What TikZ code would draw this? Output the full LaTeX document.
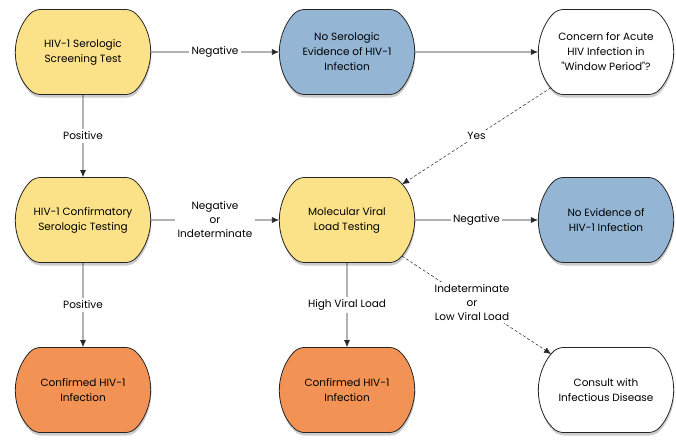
\documentclass[tikz,border=0pt]{standalone}
\usepackage{fontspec}
\setmainfont{Poppins}
\usepackage{tikz}
\usetikzlibrary{positioning}
\usetikzlibrary{shapes.misc}
\usetikzlibrary{shadows}
\usetikzlibrary{arrows.meta}

\definecolor{testyellow}{RGB}{251,226,136}
\definecolor{resultblue}{RGB}{148,181,212}
\definecolor{posorange}{RGB}{242,146,84}

\begin{document}
\begin{tikzpicture}[x=1pt, y=-1pt,
    box/.style={rounded rectangle, rounded rectangle arc length=100, rounded corners=5pt,
        draw=black!85, line width=0.8pt, minimum width=142pt, minimum height=85pt,
        align=center, text=black, font=\fontsize{10.5}{15}\selectfont,
        drop shadow={shadow xshift=0.6pt, shadow yshift=-3pt, opacity=0.4}},
    lbl/.style={fill=white, inner sep=2.5pt, align=center, text=black,
        font=\fontsize{10.5}{14}\selectfont},
    arr/.style={-{Latex[length=7pt, width=6pt]}, line width=0.7pt, black!85},
    maybe/.style={-{Latex[length=7pt, width=6pt]}, line width=0.5pt, densely dashed, black!85}]
    \useasboundingbox (0,0) rectangle (676,441);

    % first row
    \node[box, fill=testyellow] (screen) at (83,52) {HIV-1 Serologic\\Screening Test};
    \node[box, fill=resultblue] (noserol) at (347,52) {No Serologic\\Evidence of HIV-1\\Infection};
    \node[box, fill=white] (concern) at (606,52) {Concern for Acute\\HIV Infection in\\\textquotedbl Window Period\textquotedbl?};

    % second row
    \node[box, fill=testyellow] (confirm) at (83,220) {HIV-1 Confirmatory\\Serologic Testing};
    \node[box, fill=testyellow] (viral) at (347,220) {Molecular Viral\\Load Testing};
    \node[box, fill=resultblue] (noevid) at (606,220) {No Evidence of\\HIV-1 Infection};

    % third row
    \node[box, fill=posorange] (infect1) at (83,390) {Confirmed HIV-1\\Infection};
    \node[box, fill=posorange] (infect2) at (347,390) {Confirmed HIV-1\\Infection};
    \node[box, fill=white] (consult) at (606,390) {Consult with\\Infectious Disease};

    \draw[arr] (screen) -- node[lbl] {Negative} (noserol);
    \draw[arr] (noserol) -- (concern);
    \draw[maybe] (concern) -- node[lbl] {Yes} (viral);
    \draw[arr] (screen) -- node[lbl] {Positive} (confirm);
    \draw[arr] (confirm) -- node[lbl] {Negative\\or\\Indeterminate} (viral);
    \draw[arr] (viral) -- node[lbl] {Negative} (noevid);
    \draw[arr] (confirm) -- node[lbl] {Positive} (infect1);
    \draw[arr] (viral) -- node[lbl] {High Viral Load} (infect2);
    \draw[maybe] (viral) -- node[lbl, pos=0.47] {Indeterminate\\or\\Low Viral Load} (consult);
\end{tikzpicture}
\end{document}
